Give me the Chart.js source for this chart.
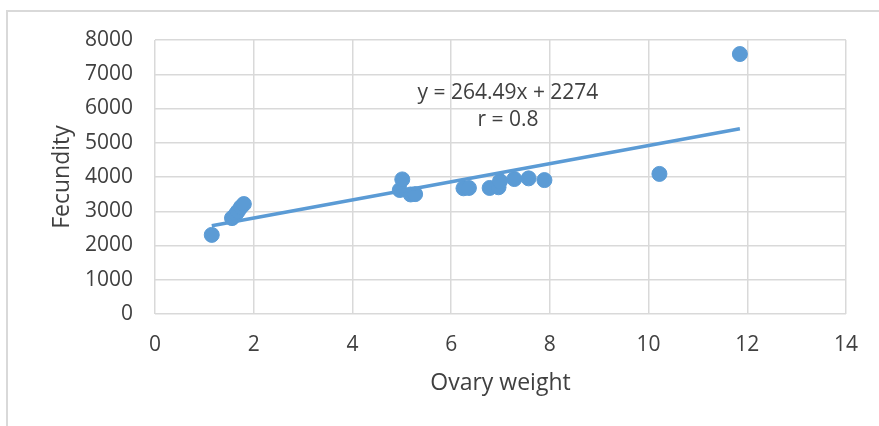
<!DOCTYPE html>
<html>
<head>
<meta charset="utf-8">
<script src="https://cdn.jsdelivr.net/npm/chart.js@4/dist/chart.umd.min.js"></script>
<style>
  html, body { margin: 0; padding: 0; background: #fff; }
  #wrap { position: relative; width: 879px; height: 426px; overflow: hidden; }
  #frame { position: absolute; left: 6px; top: 10px; width: 900px; height: 440px;
           border-left: 2px solid #d9d9d9; border-top: 2px solid #d9d9d9; box-sizing: border-box; }
  canvas { position: absolute; left: 0; top: 0; }
</style>
</head>
<body>
<div id="wrap">
  <div id="frame"></div>
  <canvas id="chart" width="879" height="426"></canvas>
</div>
<script>
// ovary weight vs fecundity
const ovaryWeight = [1.15, 1.56, 1.64, 1.68, 1.74, 1.80, 4.96, 5.01, 5.18, 5.27, 6.25, 6.36, 6.78, 6.96, 6.99, 7.28, 7.57, 7.89, 10.22, 11.85];
const fecundity   = [2310, 2800, 2920, 3000, 3120, 3210, 3620, 3930, 3490, 3500, 3670, 3680, 3680, 3700, 3880, 3940, 3960, 3910, 4090, 7590];

const slope = 264.49;
const intercept = 2274;
const trendX = [1.15, 11.85];

const xTicks = [0, 2, 4, 6, 8, 10, 12, 14];
const yTicks = [0, 1000, 2000, 3000, 4000, 5000, 6000, 7000, 8000];

const eqLines = ['y = 264.49x + 2274', 'r = 0.8'];

const blue = '#5b9bd5';
const gridColor = '#d9d9d9';
const textColor = '#404040';
const fontFamily = "'Open Sans', sans-serif";

const equationLabel = {
    id: 'equationLabel',
    afterDatasetsDraw(chart) {
        const c = chart.ctx;
        const xs = chart.scales.x, ys = chart.scales.y;
        const cx = xs.getPixelForValue(7.15);
        const cy = ys.getPixelForValue(6440);
        c.save();
        c.font = `21px ${fontFamily}`;
        c.fillStyle = textColor;
        c.textAlign = 'center';
        c.textBaseline = 'middle';
        c.fillText(eqLines[0], cx, cy);
        c.fillText(eqLines[1], cx, cy + 27);
        c.restore();
    }
};

new Chart(document.getElementById('chart'), {
    type: 'scatter',
    data: {
        datasets: [{
            label: 'Fecundity',
            data: ovaryWeight.map((x, i) => ({ x: x, y: fecundity[i] })),
            backgroundColor: blue,
            borderColor: blue,
            pointRadius: 7.5,
            pointHoverRadius: 7.5,
            order: 2
        }, {
            label: 'Trend',
            type: 'line',
            data: trendX.map(x => ({ x: x, y: slope * x + intercept })),
            borderColor: blue,
            borderWidth: 3.5,
            pointRadius: 0,
            fill: false,
            order: 1
        }]
    },
    options: {
        responsive: false,
        animation: false,
        layout: { padding: { left: 0, right: 33, top: 40, bottom: 27 } },
        plugins: { legend: { display: false }, tooltip: { enabled: false } },
        scales: {
            x: {
                type: 'linear',
                min: 0, max: 14,
                afterBuildTicks: axis => { axis.ticks = xTicks.map(v => ({ value: v })); },
                afterFit: axis => { axis.height = 85; },
                grid: { color: gridColor, lineWidth: 1.5, drawTicks: false },
                border: { display: false },
                ticks: { padding: 18, color: textColor, font: { family: fontFamily, size: 21 },
                         callback: v => String(v) },
                title: { display: true, text: 'Ovary weight', color: textColor,
                         font: { family: fontFamily, size: 23 }, padding: { top: 0, bottom: 2 } }
            },
            y: {
                min: 0, max: 8000,
                afterBuildTicks: axis => { axis.ticks = yTicks.map(v => ({ value: v })); },
                afterFit: axis => { axis.width = 155; },
                grid: { color: gridColor, lineWidth: 1.5, drawTicks: false },
                border: { display: false },
                ticks: { padding: 22, color: textColor, font: { family: fontFamily, size: 21 },
                         callback: v => String(v) },
                title: { display: true, text: 'Fecundity', color: textColor,
                         font: { family: fontFamily, size: 23 }, padding: { top: 49, bottom: 0 } }
            }
        }
    },
    plugins: [equationLabel]
});
</script>
</body>
</html>
